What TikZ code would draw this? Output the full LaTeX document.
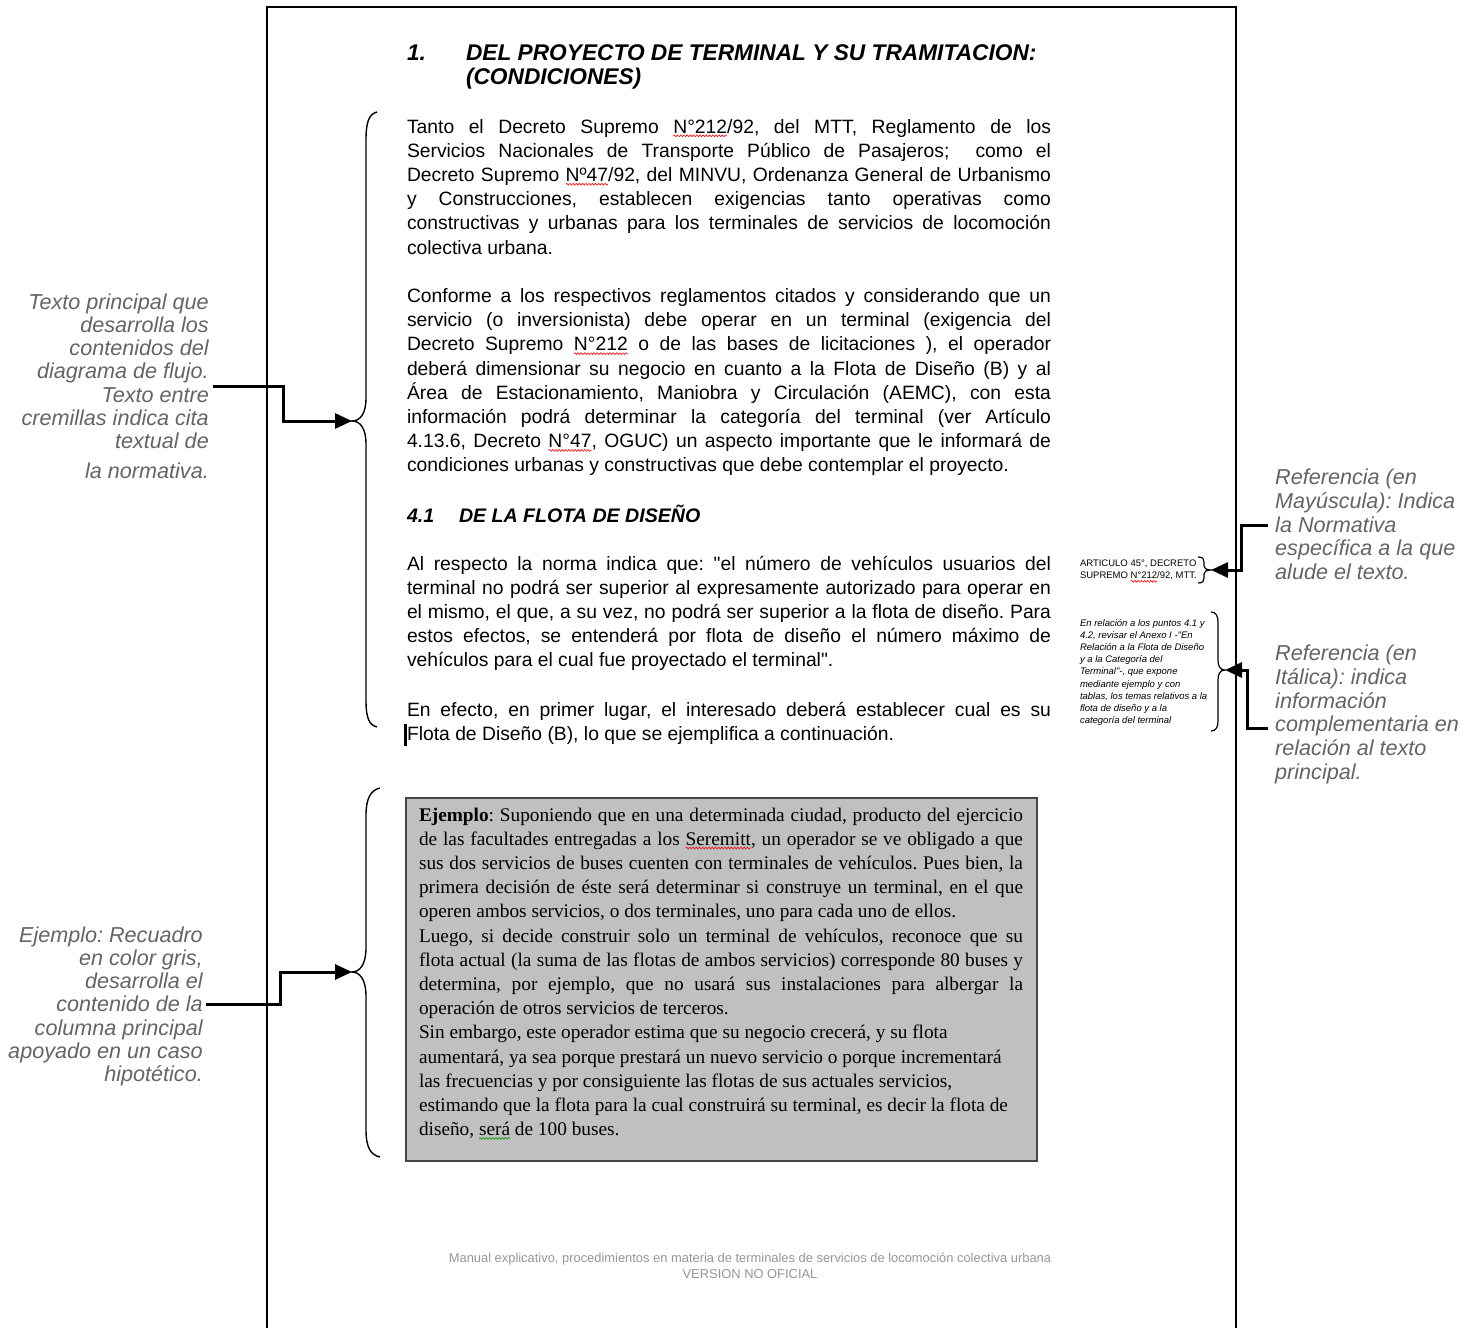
\documentclass[tikz,border=0pt]{standalone}
\usepackage{fontspec}
\setmainfont{Liberation Sans}
\newfontfamily\arialf{Liberation Sans}
\newfontfamily\timesf{Liberation Serif}
\usetikzlibrary{arrows.meta,decorations.pathmorphing}
\definecolor{annot}{RGB}{100,100,100}
\definecolor{footc}{RGB}{150,150,150}
\definecolor{boxfill}{RGB}{192,192,192}
\definecolor{boxline}{RGB}{70,70,70}
\definecolor{sqgreen}{RGB}{0,150,0}
\frenchspacing
\newcommand\jl[1]{\noindent\hbox to\hsize{\spaceskip=0pt\xspaceskip=0pt #1}\par}
\newcommand\nl[1]{\noindent\hbox{\spaceskip=0pt\xspaceskip=0pt #1}\par}
\newcommand\rl[1]{\noindent\hbox to\hsize{\hfil\spaceskip=0pt\xspaceskip=0pt #1}\par}
\newcommand\cl[1]{\noindent\hbox to\hsize{\hfil\spaceskip=0pt\xspaceskip=0pt #1\hfil}\par}
\newsavebox\sqbox
\newcommand\sqw[2]{\sbox\sqbox{#2}\rlap{\tikz[overlay,baseline=0pt]\draw[#1,line width=0.6pt,decorate,decoration={snake,amplitude=0.9pt,segment length=3.2pt}] (0pt,-2.8pt) -- (\the\wd\sqbox,-2.8pt);}\usebox\sqbox}
\tikzset{
  txt/.style={inner sep=0pt,outer sep=0pt,anchor=base west},
  bodytxt/.style={txt,font=\arialf\fontsize{19.3}{24.2}\selectfont,text width=644pt},
  extxt/.style={txt,font=\timesf\fontsize{19.3}{24.2}\selectfont,text width=604pt},
  headA/.style={txt,font=\arialf\bfseries\itshape\fontsize{22.7}{24}\selectfont,text width=640pt},
  headB/.style={txt,font=\arialf\bfseries\itshape\fontsize{19.6}{24}\selectfont,text width=400pt},
  annL/.style={inner sep=0pt,anchor=base east,text width=260pt,text=annot,font=\arialf\itshape\fontsize{21.6}{23.3}\selectfont},
  annR/.style={inner sep=0pt,anchor=base west,text width=260pt,text=annot,font=\arialf\itshape\fontsize{21.6}{23.8}\selectfont},
  tinyref/.style={txt,text width=150pt,font=\arialf\fontsize{9.5}{12}\selectfont},
  tinyit/.style={txt,text width=150pt,font=\arialf\itshape\fontsize{9.5}{12.1}\selectfont},
  foottxt/.style={inner sep=0pt,anchor=base,text width=700pt,text=footc,font=\arialf\fontsize{12.9}{16}\selectfont},
  brace/.style={line width=1.4pt},
  conn/.style={line width=3pt,-{Triangle[length=17pt,width=15pt]}},
  frame/.style={line width=1.5pt}
}
\begin{document}
\begin{tikzpicture}[x=1pt,y=-1pt]
\useasboundingbox (0,0) rectangle (1473,1328);
% page frame
\draw[frame] (267,1328) -- (267,7) -- (1236,7) -- (1236,1328);

% headings
\node[headA] (h1n) at (407,60.5) {\nl{1.}};
\node[headA] (h1t) at (466,60.5) {\nl{DEL PROYECTO DE TERMINAL Y SU TRAMITACION:}\nl{(CONDICIONES)}};
\node[headB] (h2n) at (407,522) {\nl{4.1}};
\node[headB] (h2t) at (459,522) {\nl{DE LA FLOTA DE DISEÑO}};

% body paragraphs
\node[bodytxt] (p1) at (407,133) {%
\jl{Tanto el Decreto Supremo \sqw{red}{N°212}/92, del MTT, Reglamento de los}
\jl{Servicios Nacionales de Transporte Público de Pasajeros;\ \ como el}
\jl{Decreto Supremo \sqw{red}{Nº47}/92, del MINVU, Ordenanza General de Urbanismo}
\jl{y Construcciones, establecen exigencias tanto operativas como}
\jl{constructivas y urbanas para los terminales de servicios de locomoción}
\nl{colectiva urbana.}};

\node[bodytxt] (p2) at (407,302.4) {%
\jl{Conforme a los respectivos reglamentos citados y considerando que un}
\jl{servicio (o inversionista) debe operar en un terminal (exigencia del}
\jl{Decreto Supremo \sqw{red}{N°212} o de las bases de licitaciones ), el operador}
\jl{deberá dimensionar su negocio en cuanto a la Flota de Diseño (B) y al}
\jl{Área de Estacionamiento, Maniobra y Circulación (AEMC), con esta}
\jl{información podrá determinar la categoría del terminal (ver Artículo}
\jl{4.13.6, Decreto \sqw{red}{N°47}, OGUC) un aspecto importante que le informará de}
\nl{condiciones urbanas y constructivas que debe contemplar el proyecto.}};

\node[bodytxt] (p3) at (407,570) {%
\jl{Al respecto la norma indica que: "el número de vehículos usuarios del}
\jl{terminal no podrá ser superior al expresamente autorizado para operar en}
\jl{el mismo, el que, a su vez, no podrá ser superior a la flota de diseño. Para}
\jl{estos efectos, se entenderá por flota de diseño el número máximo de}
\nl{vehículos para el cual fue proyectado el terminal".}};

\node[bodytxt] (p4) at (407,716) {%
\jl{En efecto, en primer lugar, el interesado deberá establecer cual es su}
\nl{\llap{\rule[-6pt]{2.6pt}{22pt}\kern0.5pt}Flota de Diseño (B), lo que se ejemplifica a continuación.}};

% example box
\node[draw=boxline,fill=boxfill,line width=2pt,inner sep=0pt,anchor=north west,minimum width=631pt,minimum height=363pt] (exbox) at (405,797) {};
\node[extxt] (ex) at (419,821) {%
\jl{\textbf{Ejemplo}: Suponiendo que en una determinada ciudad, producto del ejercicio}
\jl{de las facultades entregadas a los \sqw{red}{Seremitt}, un operador se ve obligado a que}
\jl{sus dos servicios de buses cuenten con terminales de vehículos. Pues bien, la}
\jl{primera decisión de éste será determinar si construye un terminal, en el que}
\nl{operen ambos servicios, o dos terminales, uno para cada uno de ellos.}
\jl{Luego, si decide construir solo un terminal de vehículos, reconoce que su}
\jl{flota actual (la suma de las flotas de ambos servicios) corresponde 80 buses y}
\jl{determina, por ejemplo, que no usará sus instalaciones para albergar la}
\nl{operación de otros servicios de terceros.}
\nl{Sin embargo, este operador estima que su negocio crecerá, y su flota}
\nl{aumentará, ya sea porque prestará un nuevo servicio o porque incrementará}
\nl{las frecuencias y por consiguiente las flotas de sus actuales servicios,}
\nl{estimando que la flota para la cual construirá su terminal, es decir la flota de}
\nl{diseño, \sqw{sqgreen}{será} de 100 buses.}};

% small references on the right
\node[tinyref] (ref1) at (1080,566.5) {%
\nl{ARTICULO 45°, DECRETO}
\nl{SUPREMO \sqw{red}{N°212}/92, MTT.}};
\node[tinyit] (ref2) at (1080,626.5) {%
\nl{En relación a los puntos 4.1 y}
\nl{4.2, revisar el Anexo I -"En}
\nl{Relación a la Flota de Diseño}
\nl{y a la Categoría del}
\nl{Terminal"-, que expone}
\nl{mediante ejemplo y con}
\nl{tablas, los temas relativos a la}
\nl{flota de diseño y a la}
\nl{categoría del terminal}};

% footer
\node[foottxt] (foot) at (750,1262.5) {%
\cl{Manual explicativo, procedimientos en materia de terminales de servicios de locomoción colectiva urbana}
\cl{VERSION NO OFICIAL}};

% annotations
\node[annL] (ann1) at (209,309) {%
\rl{Texto principal que}
\rl{desarrolla los}
\rl{contenidos del}
\rl{diagrama de flujo.}
\rl{Texto entre}
\rl{cremillas indica cita}
\rl{textual de}
\vskip6pt
\rl{la normativa.}};
\node[annL] (ann2) at (203,942) {%
\rl{Ejemplo: Recuadro}
\rl{en color gris,}
\rl{desarrolla el}
\rl{contenido de la}
\rl{columna principal}
\rl{apoyado en un caso}
\rl{hipotético.}};
\node[annR] (ann3) at (1275,484.5) {%
\nl{Referencia (en}
\nl{Mayúscula): Indica}
\nl{la Normativa}
\nl{específica a la que}
\nl{alude el texto.}};
\node[annR] (ann4) at (1275,660.5) {%
\nl{Referencia (en}
\nl{Itálica): indica}
\nl{información}
\nl{complementaria en}
\nl{relación al texto}
\nl{principal.}};

% brace tips and connector points
\coordinate (b1tip) at (352,421);
\coordinate (b2tip) at (352,972);
\coordinate (b3tip) at (1211,570);
\coordinate (b4tip) at (1225,670);
\coordinate (c1s) at (213,386);
\coordinate (c1x) at (283,421);
\coordinate (c2s) at (206,1004);
\coordinate (c2x) at (280,972);
\coordinate (c3s) at (1268,525);
\coordinate (c3x) at (1241,570);
\coordinate (c4s) at (1268,728);
\coordinate (c4x) at (1247,670);

% braces
\draw[brace] (377,112) .. controls (369,114) and (366,122) .. (366,140) -- (366,398) .. controls (366,414) and (360,421) .. (b1tip) .. controls (360,421) and (366,428) .. (366,444) -- (366,700) .. controls (366,718) and (369,725) .. (377,727);
\draw[brace] (380,788) .. controls (371,790) and (366,798) .. (366,815) -- (366,948) .. controls (366,964) and (360,972) .. (b2tip) .. controls (360,972) and (366,980) .. (366,996) -- (366,1130) .. controls (366,1148) and (371,1155) .. (380,1157);
\draw[line width=1.2pt] (1198,557) .. controls (1203,557) and (1204,559) .. (1204,562) -- (1204,566) .. controls (1204,568) and (1206,570) .. (b3tip) .. controls (1206,570) and (1204,572) .. (1204,574) -- (1204,578) .. controls (1204,581) and (1203,583) .. (1198,583);
\draw[line width=1.2pt] (1211,612) .. controls (1216,612) and (1218,616) .. (1218,622) -- (1218,660) .. controls (1218,666) and (1220,670) .. (b4tip) .. controls (1220,670) and (1218,674) .. (1218,680) -- (1218,721) .. controls (1218,727) and (1216,731) .. (1211,731);

% connectors
\draw[conn] (c1s) -| (c1x) -- (b1tip);
\draw[conn] (c2s) -| (c2x) -- (b2tip);
\draw[conn] (c3s) -| (c3x) -- (b3tip);
\draw[conn] (c4s) -| (c4x) -- (b4tip);
\end{tikzpicture}
\end{document}
